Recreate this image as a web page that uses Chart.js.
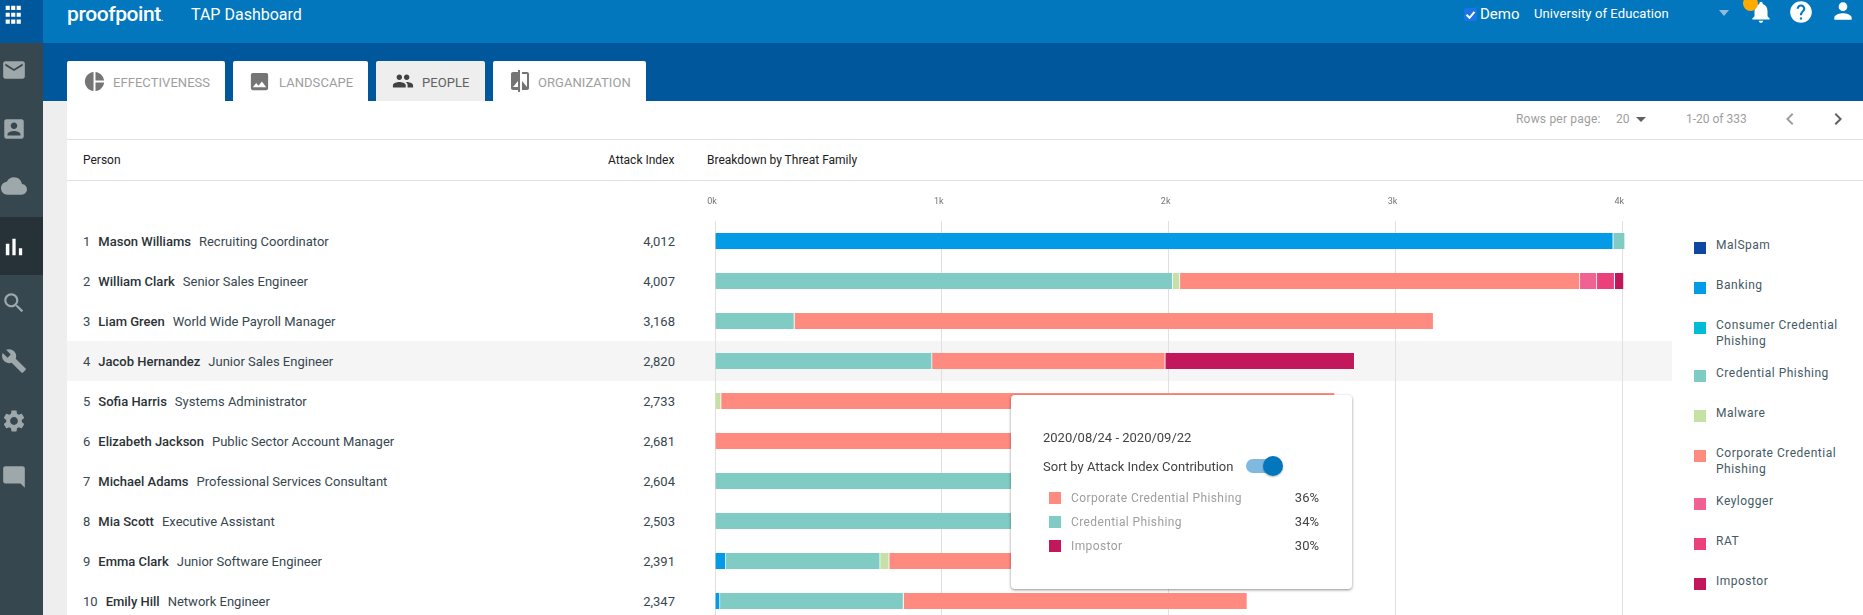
<!DOCTYPE html>
<html>
<head>
<meta charset="utf-8">
<script src="https://cdn.jsdelivr.net/npm/chart.js@4"></script>
<style>
html, body { margin: 0; padding: 0; width: 1863px; height: 615px; overflow: hidden; background: #fff; font-family: Roboto, sans-serif; }
.abs, .abs-text { position: absolute; }
.abs-text { white-space: nowrap; transform: translateY(-50%); }
svg { position: absolute; display: block; }
#topbar { left: 0; top: 0; width: 1863px; height: 43px; background: #0277bd; }
#band { left: 0; top: 43px; width: 1863px; height: 58px; background: #01579b; }
#corner { left: 0; top: 0; width: 43px; height: 43px; background: #01579b; }
#side { left: 0; top: 43px; width: 43px; height: 572px; background: #37474f; }
#active { left: 0; top: 217px; width: 43px; height: 58px; background: #263238; }
#gutter { left: 43px; top: 101px; width: 24px; height: 514px; background: #eeeeee; }
.tab { position: absolute; top: 61px; height: 40px; background: #fff; border-radius: 2px 2px 0 0; }
.tab span { position: absolute; top: 21px; transform: translateY(-50%); font-size: 13px; color: #9e9e9e; letter-spacing: .05px; white-space: nowrap; }
.tab.on { background: #eeeeee; }
.tab.on span { color: #616161; }
.hline { position: absolute; left: 67px; width: 1796px; height: 1px; background: #e0e0e0; }
#hover { left: 67px; top: 341px; width: 1605px; height: 40px; background: #f5f5f5; }
.head { font-size: 12px; color: #212121; }
.row { position: absolute; left: 83px; width: 592px; height: 40px; font-size: 13px; line-height: 42px; white-space: nowrap; color: #37474f; }
.row b { font-weight: 500; color: #2b3237; margin: 0 8px 0 8px; }
.row i { position: absolute; right: 0; top: 0; font-style: normal; color: #37474f; }
#chart-wrap { position: absolute; left: 700px; top: 190px; width: 960px; height: 431px; }
#legend { position: absolute; left: 1694px; top: 237px; width: 150px; }
.lg { position: relative; min-height: 40px; padding-left: 22px; padding-bottom: 16px; box-sizing: border-box; font-size: 12px; line-height: 16px; letter-spacing: .5px; color: #455a64; width: 146px; }
.lg s { position: absolute; left: 0; top: 5px; width: 12px; height: 12px; }
#tip { position: absolute; left: 1011px; top: 395px; width: 341px; height: 194px; background: #fff; border-radius: 4px; box-shadow: 0 1px 3px rgba(0,0,0,.45); color: #424242; }
.tip-row { position: absolute; left: 38px; width: 270px; height: 24px; line-height: 24px; font-size: 12px; letter-spacing: .4px; color: #9e9e9e; }
.tip-row s { position: absolute; left: 0; top: 6px; width: 12px; height: 12px; }
.tip-row span { position: absolute; left: 22px; top: 0; }
.tip-row em { position: absolute; right: 0; top: 0; font-style: normal; color: #424242; letter-spacing: 0; font-size: 13px; }
</style>
</head>
<body>
<div class="abs" id="topbar"></div>
<div class="abs" id="band"></div>
<div class="abs" id="corner"></div>
<div class="abs" id="side"></div>
<div class="abs" id="active"></div>
<div class="abs" id="gutter"></div>

<svg style="left:2px;top:4px" width="22" height="22" viewBox="0 0 24 24" fill="#fff"><path d="M4 2h4.5v4.5H4zM10 2h4.5v4.5H10zM16 2h4.5v4.5H16zM4 9.5h4.5V14H4zM10 9.5h4.5V14H10zM16 9.5h4.5V14H16zM4 17h4.5v4.5H4zM10 17h4.5v4.5H10zM16 17h4.5v4.5H16z"/></svg>

<svg style="left:1px;top:57px" width="26" height="26" viewBox="0 0 24 24" fill="#9ea7aa"><path d="M20 4H4c-1.1 0-2 .9-2 2v12c0 1.1.9 2 2 2h16c1.1 0 2-.9 2-2V6c0-1.1-.9-2-2-2zm0 4l-8 5-8-5V6l8 5 8-5v2z"/></svg>
<svg style="left:1px;top:116px" width="26" height="26" viewBox="0 0 24 24" fill="#9ea7aa"><path d="M3 5v14c0 1.1.89 2 2 2h14c1.1 0 2-.9 2-2V5c0-1.1-.9-2-2-2H5c-1.11 0-2 .9-2 2zm12 4c0 1.66-1.34 3-3 3s-3-1.34-3-3 1.34-3 3-3 3 1.34 3 3zm-9 8c0-2 4-3.1 6-3.1s6 1.1 6 3.1v1H6v-1z"/></svg>
<svg style="left:1px;top:173px" width="26" height="26" viewBox="0 0 24 24" fill="#9ea7aa"><path d="M19.35 10.04C18.67 6.59 15.64 4 12 4 9.11 4 6.6 5.64 5.35 8.04 2.34 8.36 0 10.91 0 14c0 3.31 2.69 6 6 6h13c2.76 0 5-2.24 5-5 0-2.64-2.05-4.78-4.65-4.96z"/></svg>
<svg style="left:0px;top:233px" width="28" height="28" viewBox="0 0 24 24" fill="#fff"><path d="M5 9.2h3V19H5zM10.6 5h2.8v14h-2.8zm5.6 8H19v6h-2.8z"/></svg>
<svg style="left:1px;top:290px" width="26" height="26" viewBox="0 0 24 24" fill="#9ea7aa"><path d="M15.5 14h-.79l-.28-.27C15.41 12.59 16 11.11 16 9.5 16 5.91 13.09 3 9.5 3S3 5.91 3 9.5 5.91 16 9.5 16c1.61 0 3.09-.59 4.23-1.57l.27.28v.79l5 4.99L20.49 19l-4.99-5zm-6 0C7.01 14 5 11.99 5 9.5S7.01 5 9.5 5 14 7.01 14 9.5 11.99 14 9.5 14z"/></svg>
<svg style="left:1px;top:348px" width="26" height="26" viewBox="0 0 24 24" fill="#9ea7aa"><path d="M22.7 19l-9.1-9.1c.9-2.3.4-5-1.5-6.9-2-2-5-2.4-7.4-1.3L9 6 6 9 1.6 4.7C.4 7.1.9 10.1 2.9 12.1c1.9 1.9 4.6 2.4 6.9 1.5l9.1 9.1c.4.4 1 .4 1.4 0l2.3-2.3c.5-.4.5-1.1.1-1.4z"/></svg>
<svg style="left:1px;top:408px" width="26" height="26" viewBox="0 0 24 24" fill="#9ea7aa"><path d="M19.14 12.94c.04-.3.06-.61.06-.94 0-.32-.02-.64-.07-.94l2.03-1.58c.18-.14.23-.41.12-.61l-1.92-3.32c-.12-.22-.37-.29-.59-.22l-2.39.96c-.5-.38-1.03-.7-1.62-.94l-.36-2.54c-.04-.24-.24-.41-.48-.41h-3.84c-.24 0-.43.17-.47.41l-.36 2.54c-.59.24-1.13.57-1.62.94l-2.39-.96c-.22-.08-.47 0-.59.22L2.74 8.87c-.12.21-.08.47.12.61l2.03 1.58c-.05.3-.09.63-.09.94s.02.64.07.94l-2.03 1.58c-.18.14-.23.41-.12.61l1.92 3.32c.12.22.37.29.59.22l2.39-.96c.5.38 1.03.7 1.62.94l.36 2.54c.05.24.24.41.48.41h3.84c.24 0 .44-.17.47-.41l.36-2.54c.59-.24 1.13-.56 1.62-.94l2.39.96c.22.08.47 0 .59-.22l1.92-3.32c.12-.22.07-.47-.12-.61l-2.01-1.58zM12 15.6c-1.98 0-3.6-1.62-3.6-3.6s1.62-3.6 3.6-3.6 3.6 1.62 3.6 3.6-1.62 3.6-3.6 3.6z"/></svg>
<svg style="left:1px;top:464px" width="26" height="26" viewBox="0 0 24 24" fill="#9ea7aa"><path d="M21.99 4c0-1.1-.89-2-1.99-2H4c-1.1 0-2 .9-2 2v12c0 1.1.9 2 2 2h14l4 4-.01-18z"/></svg>

<div class="abs-text" style="left:67px;top:14px;font-size:21px;font-weight:500;color:#fff;letter-spacing:-.4px">proofpoint<span style="font-size:9px">.</span></div>
<div class="abs-text" style="left:191px;top:14px;font-size:16px;color:#fff">TAP Dashboard</div>

<div class="abs" style="left:1464px;top:8px;width:13px;height:13px;background:#1a73e8;border-radius:2px"></div>
<svg style="left:1464px;top:8px" width="13" height="13" viewBox="0 0 13 13"><path d="M2.5 6.8l3 3 5-6" fill="none" stroke="#fff" stroke-width="2"/></svg>
<div class="abs-text" style="left:1480px;top:14px;font-size:15px;color:#fff">Demo</div>
<div class="abs-text" style="left:1534px;top:13px;font-size:13px;color:#fff;letter-spacing:.1px">University of Education</div>
<svg style="left:1719px;top:10px" width="10" height="6" viewBox="0 0 10 6"><path d="M0 0h10L5 6z" fill="#8fbcdc"/></svg>
<svg style="left:1748px;top:-1px" width="26" height="26" viewBox="0 0 24 24" fill="#fff"><path d="M12 22c1.1 0 2-.9 2-2h-4c0 1.1.89 2 2 2zm6-6v-5c0-3.07-1.64-5.64-4.5-6.32V4c0-.83-.67-1.5-1.5-1.5s-1.5.67-1.5 1.5v.68C7.63 5.36 6 7.92 6 11v5l-2 2v1h16v-1l-2-2z"/></svg>
<div class="abs" style="left:1743px;top:-4px;width:15px;height:15px;background:#ffab00;border-radius:50%"></div>
<svg style="left:1788px;top:-1px" width="26" height="26" viewBox="0 0 24 24" fill="#fff"><path d="M12 2C6.48 2 2 6.48 2 12s4.48 10 10 10 10-4.48 10-10S17.52 2 12 2zm1 17h-2v-2h2v2zm2.07-7.75l-.9.92C13.45 12.9 13 13.5 13 15h-2v-.5c0-1.1.45-2.1 1.17-2.83l1.24-1.26c.37-.36.59-.86.59-1.41 0-1.1-.9-2-2-2s-2 .9-2 2H8c0-2.21 1.79-4 4-4s4 1.79 4 4c0 .88-.36 1.68-.93 2.25z"/></svg>
<svg style="left:1830px;top:-2px" width="26" height="26" viewBox="0 0 24 24" fill="#fff"><path d="M12 12c2.21 0 4-1.79 4-4s-1.79-4-4-4-4 1.79-4 4 1.79 4 4 4zm0 2c-2.67 0-8 1.34-8 4v2h16v-2c0-2.66-5.33-4-8-4z"/></svg>

<div class="tab" style="left:67px;width:158px">
  <svg style="left:16px;top:9px" width="23" height="23" viewBox="0 0 24 24" fill="#757575"><path d="M11 2v20c-5.07-.5-9-4.79-9-10s3.93-9.5 9-10zm2.03 0v8.99H22c-.47-4.74-4.24-8.52-8.97-8.99zm0 11.01V22c4.74-.47 8.5-4.25 8.97-8.99h-8.97z"/></svg>
  <span style="left:46px">EFFECTIVENESS</span>
</div>
<div class="tab" style="left:233px;width:135px">
  <svg style="left:15px;top:9px" width="23" height="23" viewBox="0 0 24 24" fill="#757575"><path d="M21 19V5c0-1.1-.9-2-2-2H5c-1.1 0-2 .9-2 2v14c0 1.1.9 2 2 2h14c1.1 0 2-.9 2-2zM8.5 13.5l2.5 3.01L14.5 12l4.5 6H5l3.5-4.5z"/></svg>
  <span style="left:46px">LANDSCAPE</span>
</div>
<div class="tab on" style="left:376px;width:109px">
  <svg style="left:16px;top:9px" width="22" height="22" viewBox="0 0 24 24" fill="#424242"><path d="M16 11c1.66 0 2.99-1.34 2.99-3S17.66 5 16 5c-1.66 0-3 1.34-3 3s1.34 3 3 3zm-8 0c1.66 0 2.99-1.34 2.99-3S9.66 5 8 5C6.34 5 5 6.34 5 8s1.34 3 3 3zm0 2c-2.33 0-7 1.17-7 3.5V19h14v-2.5c0-2.33-4.67-3.5-7-3.5zm8 0c-.29 0-.62.02-.97.05 1.16.84 1.97 1.97 1.97 3.45V19h6v-2.5c0-2.33-4.67-3.5-7-3.5z"/></svg>
  <span style="left:46px">PEOPLE</span>
</div>
<div class="tab" style="left:493px;width:153px">
  <svg style="left:15px;top:8px" width="24" height="24" viewBox="0 0 24 24" fill="#757575"><path d="M10 3H5c-1.1 0-2 .9-2 2v14c0 1.1.9 2 2 2h5v2h2V1h-2v2zm0 15H5l5-6v6zm9-15h-5v2h5v13l-5-6v9h5c1.1 0 2-.9 2-2V5c0-1.1-.9-2-2-2z"/></svg>
  <span style="left:45px">ORGANIZATION</span>
</div>

<div class="abs-text" style="left:1516px;top:119px;font-size:12px;color:#9e9e9e;letter-spacing:.2px">Rows per page:</div>
<div class="abs-text" style="left:1616px;top:119px;font-size:12px;color:#9e9e9e">20</div>
<svg style="left:1636px;top:117px" width="10" height="5" viewBox="0 0 10 5"><path d="M0 0h10L5 5z" fill="#616161"/></svg>
<div class="abs-text" style="left:1686px;top:119px;font-size:12px;color:#9e9e9e">1-20 of 333</div>
<svg style="left:1778px;top:107px" width="24" height="24" viewBox="0 0 24 24" fill="#9e9e9e"><path d="M15.41 7.41L14 6l-6 6 6 6 1.41-1.41L10.83 12z"/></svg>
<svg style="left:1826px;top:107px" width="24" height="24" viewBox="0 0 24 24" fill="#616161"><path d="M10 6L8.59 7.41 13.17 12l-4.58 4.59L10 18l6-6z"/></svg>

<div class="hline" style="top:139px"></div>
<div class="hline" style="top:180px"></div>
<div class="abs-text head" style="left:83px;top:160px">Person</div>
<div class="abs-text head" style="left:608px;top:160px">Attack Index</div>
<div class="abs-text head" style="left:707px;top:160px">Breakdown by Threat Family</div>

<div class="abs" id="hover"></div>
<div id="rows"></div>
<div id="chart-wrap"><canvas id="bars" width="960" height="431"></canvas></div>
<div id="legend"></div>

<div id="tip">
  <div class="abs-text" style="left:32px;top:42px;font-size:13px;color:#424242">2020/08/24 - 2020/09/22</div>
  <div class="abs-text" style="left:32px;top:71px;font-size:13px;color:#424242">Sort by Attack Index Contribution</div>
  <div class="abs" style="left:235px;top:64px;width:34px;height:14px;border-radius:7px;background:#80b9e0"></div>
  <div class="abs" style="left:252px;top:61px;width:20px;height:20px;border-radius:50%;background:#0277bd;box-shadow:0 1px 2px rgba(0,0,0,.3)"></div>
  <div id="tip-rows"></div>
</div>

<script>
const people = ['Mason Williams', 'William Clark', 'Liam Green', 'Jacob Hernandez', 'Sofia Harris',
    'Elizabeth Jackson', 'Michael Adams', 'Mia Scott', 'Emma Clark', 'Emily Hill'];
const roles = ['Recruiting Coordinator', 'Senior Sales Engineer', 'World Wide Payroll Manager', 'Junior Sales Engineer',
    'Systems Administrator', 'Public Sector Account Manager', 'Professional Services Consultant', 'Executive Assistant',
    'Junior Software Engineer', 'Network Engineer'];
const attackIndex = ['4,012', '4,007', '3,168', '2,820', '2,733', '2,681', '2,604', '2,503', '2,391', '2,347'];

const families = ['MalSpam', 'Banking', 'Consumer Credential Phishing', 'Credential Phishing', 'Malware',
    'Corporate Credential Phishing', 'Keylogger', 'RAT', 'Impostor'];
const colors = ['#0d47a1', '#039be5', '#00bcd4', '#80cbc4', '#c5e1a5', '#ff8a80', '#f06292', '#ec407a', '#c2185b'];

// null = family not present for that person (a 0 would still leave a sliver)
const malSpam    = [null, null, null, null, null, null, null, null, null, null];
const banking    = [3960, null, null, null, null, null, null, null, 48, 22];
const consumer   = [null, null, null, null, null, null, null, null, null, null];
const credential = [52, 2018, 350, 957, null, null, 2604, 2503, 680, 809];
const malware    = [null, 32, null, null, 27, null, null, null, 40, null];
const corporate  = [null, 1763, 2818, 1028, 2706, 2681, null, null, 1623, 1516];
const keylogger  = [null, 75, null, null, null, null, null, null, null, null];
const rat        = [null, 78, null, null, null, null, null, null, null, null];
const impostor   = [null, 41, null, 835, null, null, null, null, null, null];
const seriesValues = [malSpam, banking, consumer, credential, malware, corporate, keylogger, rat, impostor];

const xTickValues = [0, 1000, 2000, 3000, 4000];
const xTickLabels = ['0k', '1k', '2k', '3k', '4k'];

const tipFamilies = ['Corporate Credential Phishing', 'Credential Phishing', 'Impostor'];
const tipShares = ['36%', '34%', '30%'];

// table rows, same 40px pitch as the chart categories
document.getElementById('rows').innerHTML = people.map((p, i) =>
    `<div class="row" style="top:${221 + i * 40}px">${i + 1}<b>${p}</b>${roles[i]}<i>${attackIndex[i]}</i></div>`
).join('');

document.getElementById('legend').innerHTML = families.map((f, i) =>
    `<div class="lg"><s style="background:${colors[i]}"></s>${f}</div>`
).join('');

document.getElementById('tip-rows').innerHTML = tipFamilies.map((f, i) =>
    `<div class="tip-row" style="top:${91 + i * 24}px"><s style="background:${colors[families.indexOf(f)]}"></s><span>${f}</span><em>${tipShares[i]}</em></div>`
).join('');

new Chart(document.getElementById('bars'), {
    type: 'bar',
    data: {
        labels: people,
        datasets: families.map((f, i) => ({
            label: f,
            data: seriesValues[i],
            backgroundColor: colors[i],
            borderColor: '#fff',
            borderWidth: { top: 0, right: 1, bottom: 0, left: 0 },
            borderSkipped: false,
            barThickness: 16
        }))
    },
    options: {
        indexAxis: 'y',
        responsive: false,
        animation: false,
        devicePixelRatio: 1,
        layout: { autoPadding: false, padding: { left: 15, right: 15, top: 0, bottom: 0 } },
        plugins: { legend: { display: false }, tooltip: { enabled: false } },
        scales: {
            x: {
                position: 'top',
                stacked: true,
                bounds: 'data',
                min: 0,
                max: 4100,
                border: { display: false },
                grid: { color: '#e0e0e0', drawTicks: false, lineWidth: 1 },
                ticks: {
                    maxRotation: 0,
                    autoSkip: false,
                    labelOffset: -3,
                    padding: 14,
                    color: '#757575',
                    font: { family: 'Roboto', size: 9 },
                    callback: (v, i) => xTickLabels[i]
                },
                // ticks every 1k, the axis itself runs a bit past 4k
                afterBuildTicks: scale => { scale.ticks = xTickValues.map(value => ({ value })); },
                afterFit: scale => {
                    scale.height = 31;
                    scale.paddingLeft = 0;
                    scale.paddingRight = 0;
                }
            },
            y: {
                stacked: true,
                display: false
            }
        }
    }
});
</script>
</body>
</html>
